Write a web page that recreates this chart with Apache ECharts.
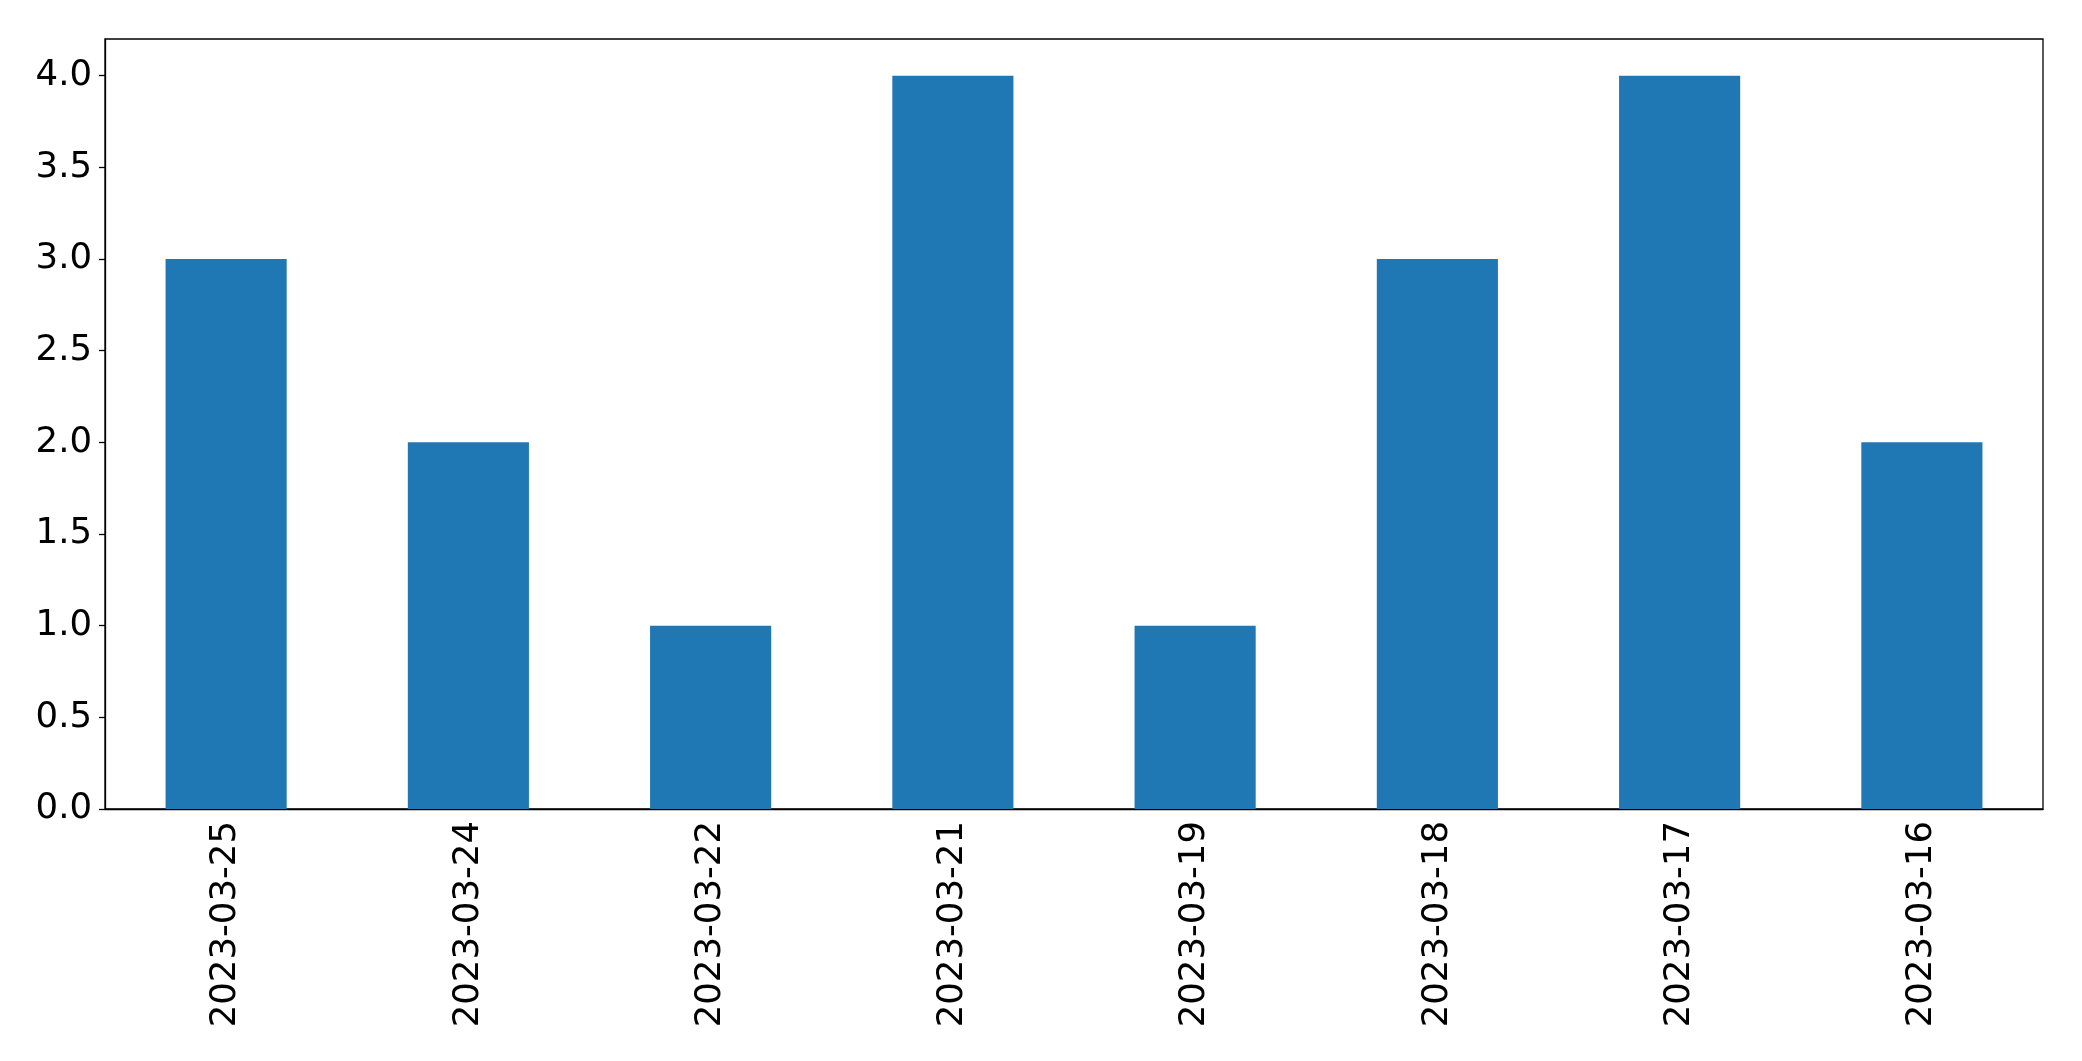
<!DOCTYPE html>
<html>
<head>
<meta charset="utf-8">
<script src="https://cdn.jsdelivr.net/npm/echarts@6/dist/echarts.min.js"></script>
<style>
  html, body { margin: 0; padding: 0; background: #fff; }
  #bar { width: 2082px; height: 1061px; }
</style>
</head>
<body>
<div id="bar"></div>
<script>
// data
var categories = ['2023-03-25', '2023-03-24', '2023-03-22', '2023-03-21', '2023-03-19', '2023-03-18', '2023-03-17', '2023-03-16'];
var counts = [3, 2, 1, 4, 1, 3, 4, 2];
var yTicks = [0, 0.5, 1, 1.5, 2, 2.5, 3, 3.5, 4];

var font = 'DejaVu Sans';
var chart = echarts.init(document.getElementById('bar'));
chart.setOption({
  animation: false,
  grid: {
    left: 105,
    right: 39,
    top: 39,
    bottom: 252,
    show: true,
    borderColor: '#000',
    borderWidth: 1.3,
    containLabel: false
  },
  xAxis: {
    type: 'category',
    data: categories,
    boundaryGap: true,
    axisLine: { lineStyle: { color: '#000', width: 1.3 } },
    axisTick: { alignWithLabel: true, length: 6, lineStyle: { color: '#000', width: 1.3 } },
    axisLabel: { rotate: 90, color: '#000', fontFamily: font, fontSize: 35.5, margin: 12 },
    splitLine: { show: false }
  },
  yAxis: {
    type: 'value',
    min: 0,
    max: 4.2,
    axisLine: { show: true, lineStyle: { color: '#000', width: 1.3 } },
    axisTick: { show: true, length: 6, customValues: yTicks, lineStyle: { color: '#000', width: 1.3 } },
    axisLabel: {
      customValues: yTicks,
      color: '#000',
      fontFamily: font,
      fontSize: 35.5,
      margin: 13,
      formatter: function (v) { return v.toFixed(1); }
    },
    splitLine: { show: false }
  },
  series: [
    {
      type: 'bar',
      data: counts,
      barWidth: '50%',
      itemStyle: { color: '#1f77b4' }
    }
  ]
});
</script>
</body>
</html>
